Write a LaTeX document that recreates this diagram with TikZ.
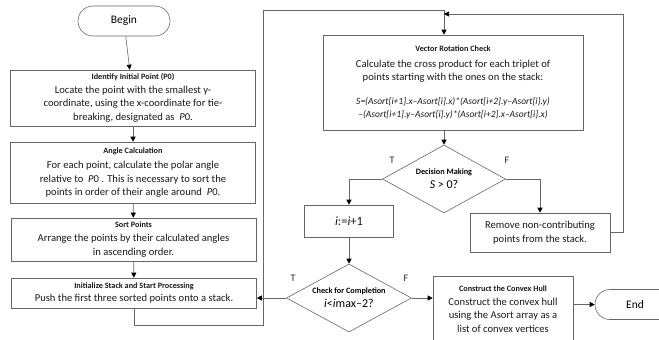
\documentclass[tikz,border=0pt]{standalone}
\usepackage{fontspec}
\setmainfont{Carlito}
\usetikzlibrary{shapes.geometric,arrows.meta}
\newcommand{\boxhead}[1]{{\fontsize{8.2}{10}\selectfont\bfseries #1}}
\begin{document}
\begin{tikzpicture}[x=1pt,y=-1pt,line width=0.6pt,
  stepbox/.style={draw=black!60, text=black!90, align=center, inner sep=1pt,
    font=\fontsize{10.6}{13.6}\selectfont},
  terminal/.style={draw=black!60, rounded corners=15pt, minimum height=30pt,
    font=\fontsize{11.5}{13}\selectfont},
  decide/.style={draw=black!60, diamond, aspect=1.8, inner sep=0pt, align=center,
    minimum width=123pt, minimum height=68pt, font=\fontsize{12}{14}\selectfont},
  branch/.style={font=\fontsize{10}{12}\selectfont, text=black!85},
  flow/.style={draw=black!60, -{Triangle[length=5pt,width=5pt,color=black]}}]
\useasboundingbox (0,0) rectangle (659,340);
%--- Left column: set-up steps ---
\node[terminal, minimum width=92pt] (begin) at (124,21) {Begin};
\node[stepbox, minimum width=245pt, minimum height=56pt] (ident) at (133,98)
  {\boxhead{Identify Initial Point (P0)}\\Locate the point with the smallest y-\\
   coordinate, using the x-coordinate for tie-\\breaking, designated as \ \textit{P}0.};
\node[stepbox, minimum width=245pt, minimum height=61pt] (angle) at (133,172.5)
  {\boxhead{Angle Calculation}\\[2pt]For each point, calculate the polar angle\\
   relative to \ \textit{P}0 . This is necessary to sort the\\
   points in order of their angle around \ \textit{P}0.};
\node[stepbox, minimum width=245pt, minimum height=43pt] (sort) at (133.5,239.5)
  {\boxhead{Sort Points}\\Arrange the points by their calculated angles\\in ascending order.};
\node[stepbox, minimum width=245pt, minimum height=30pt] (init) at (134,293)
  {\boxhead{Initialize Stack and Start Processing}\\Push the first three sorted points onto a stack.};
%--- Right part: main loop ---
\node[stepbox, minimum width=260pt, minimum height=95pt] (vector) at (453,82.5)
  {\boxhead{Vector Rotation Check}\\[2pt]Calculate the cross product for each triplet of\\
   points starting with the ones on the stack:\\[10pt]
   {\fontsize{9.5}{13.5}\selectfont\itshape S=(Asort[i+1].x--Asort[i].x)*(Asort[i+2].y--Asort[i].y)}\\
   {\fontsize{9.5}{13.5}\selectfont\itshape --(Asort[i+1].y--Asort[i].y)*(Asort[i+2].x--Asort[i].x)}};
\node[decide] (dec) at (444,179) {\boxhead{Decision Making}\\\textit{S} > 0?};
\node[stepbox, minimum width=89pt, minimum height=32pt,
  font=\fontsize{12.5}{14}\selectfont] (inc) at (349,221) {\textit{i}:=\textit{i}+1};
\node[stepbox, minimum width=140pt, minimum height=39pt] (remove) at (540,232.5)
  {Remove non-contributing\\points from the stack.};
\node[decide, minimum width=125pt] (check) at (349,298)
  {\boxhead{Check for Completion}\\\textit{i}<\textit{i}max--2?};
\node[stepbox, minimum width=140pt, minimum height=66pt] (hull) at (503,309)
  {\boxhead{Construct the Convex Hull}\\Construct the convex hull\\
   using the Asort array as a\\list of convex vertices};
\node[terminal, minimum width=80pt] (end) at (635,304.5) {End};
% branch labels
\node[branch] (decT) at (392,160) {T};
\node[branch] (decF) at (507,160) {F};
\node[branch] (checkT) at (293,278) {T};
\node[branch] (checkF) at (406,278) {F};
% turning points of the two loops
\coordinate (looptop) at (263,10);
\coordinate (back) at (623,14);
\coordinate (rejoin) at (444,14);
%--- Connectors ---
\draw[flow] (begin) -- (ident);
\draw[flow] (ident) -- (angle);
\draw[flow] (angle) -- (sort);
\draw[flow] (sort) -- (init);
\draw[flow] (init.south) -- ++(0,17) -| (looptop) -| (dec.north |- vector.north);
\draw[flow] (vector.south -| dec.north) -- (dec.north);
\draw[flow] (dec.west) -| (inc.north);
\draw[flow] (dec.east) -| (remove.north);
\draw[flow] (remove.east) -| (back) -- (rejoin);
\draw[flow] (inc) -- (check);
\draw[flow] (check.west) -- (check.west -| init.east);
\draw[flow] (check.east) -- (check.east -| hull.west);
\draw[flow] (end.west -| hull.east) -- (end.west);
\end{tikzpicture}
\end{document}
